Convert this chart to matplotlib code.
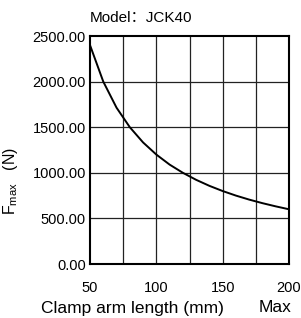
import matplotlib
matplotlib.use('Agg')
import matplotlib.pyplot as plt

plt.rcParams['font.family'] = ['Liberation Sans', 'Noto Sans CJK SC', 'DejaVu Sans']
plt.rcParams['mathtext.fontset'] = 'custom'
plt.rcParams['mathtext.rm'] = 'Liberation Sans'

# clamp arm length (mm) vs max clamping force (N)
arm_length = [50, 60, 70, 80, 90, 100, 110, 120, 130, 140, 150, 160, 170, 180, 190, 200]
force_max = [2400, 2000, 1714, 1500, 1333, 1200, 1090, 1000, 923, 857, 800, 750, 706, 667, 632, 600]

x_ticks = [50, 100, 150, 200]
x_grid = [75, 100, 125, 150, 175]
y_ticks = [0, 500, 1000, 1500, 2000, 2500]

fig = plt.figure(figsize=(3.01, 3.18), dpi=100)
ax = fig.add_axes([90 / 301, 1 - 264 / 318, 199 / 301, 228 / 318])

ax.plot(arm_length, force_max, color='black', lw=1.4)
ax.set_xlim(50, 200)
ax.set_ylim(0, 2500)
ax.set_xticks(x_ticks)
ax.set_yticks(y_ticks)
ax.set_yticklabels(['%.2f' % v for v in y_ticks])
for v in x_grid:
    ax.axvline(v, color='#222222', lw=0.9, zorder=0)
for v in y_ticks[1:-1]:
    ax.axhline(v, color='#222222', lw=0.9, zorder=0)
ax.tick_params(length=0, labelsize=10.5, pad=3, colors='black')
ax.tick_params(axis='x', pad=12)
for s in ax.spines.values():
    s.set_linewidth(1.5)

fig.text(90 / 301, 1 - 18 / 318, 'Model：JCK40', fontsize=11, ha='left', va='center')
fig.text(41 / 301, 1 - 308 / 318, 'Clamp arm length (mm)', fontsize=12.5, ha='left', va='center')
fig.text(291 / 301, 1 - 308 / 318, 'Max', fontsize=12.5, ha='right', va='center')
fig.text(11 / 301, 1 - 181 / 318, r'F$_{\mathrm{max}}$   (N)', fontsize=11.5,
         rotation=90, ha='center', va='center')

fig.savefig('out.png', dpi=100)
